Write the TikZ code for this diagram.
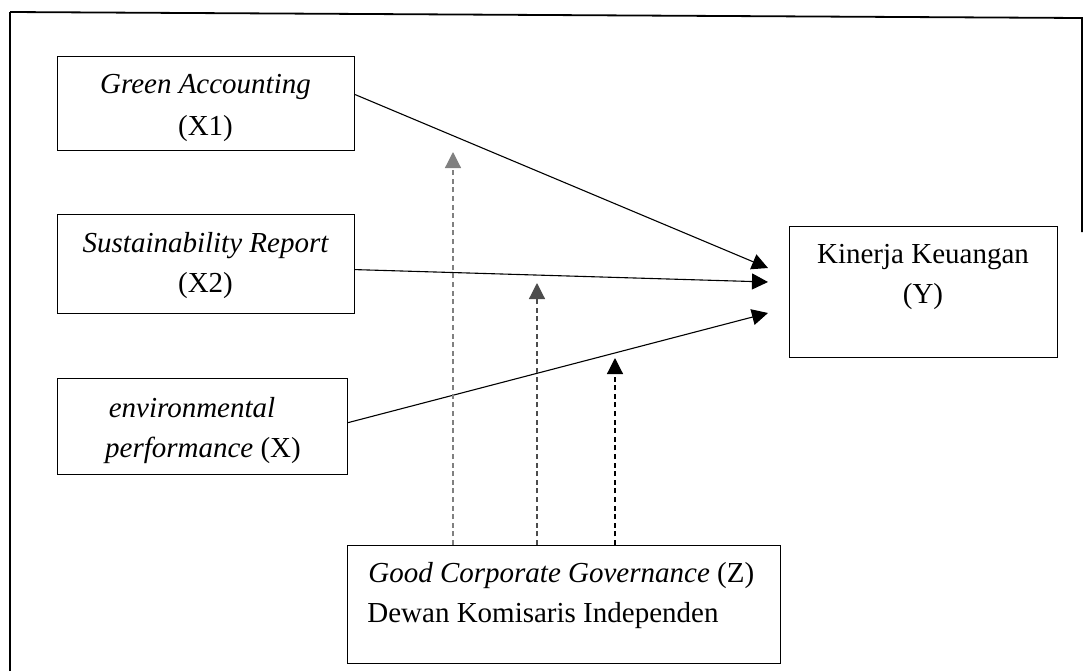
\documentclass[tikz,border=0pt]{standalone}
\usepackage{fontspec}
\setmainfont{Liberation Serif}
\usetikzlibrary{arrows.meta}
\begin{document}
\begin{tikzpicture}[x=0.5pt,y=-0.5pt,
  box/.style={draw, line width=0.6pt, inner sep=0pt, anchor=north west},
  lbl/.style={anchor=base, inner sep=0pt, font=\fontsize{14.5}{17}\selectfont},
  lblw/.style={lbl, anchor=base west},
  effect/.style={line width=0.55pt, -{Triangle[length=8pt,width=8pt]}},
  moder/.style={line width=0.6pt, dash pattern=on 2.5pt off 1.8pt, -{Triangle[length=8pt,width=8pt]}},
  frame/.style={line width=0.9pt}]
\useasboundingbox (0,0) rectangle (1084,671);
% outer frame
\draw[frame, line width=1.2pt] (10,671) -- (10,12);
\draw[frame] (10,12) -- (1082,18) -- (1082,232);
% boxes
\node[box, minimum width=148.5pt, minimum height=47pt] (x1) at (57,56) {};
\node[box, minimum width=148.5pt, minimum height=49.5pt] (x2) at (57,214) {};
\node[box, minimum width=145pt, minimum height=48pt] (x3) at (57,378) {};
\node[box, minimum width=134pt, minimum height=65.5pt] (y) at (789,226) {};
\node[box, minimum width=216.5pt, minimum height=59pt] (z) at (347,545) {};
% texts
\node[lbl] (t1a) at (205.5,93) {\itshape Green Accounting};
\node[lbl] (t1b) at (205.5,135) {(X1)};
\node[lbl] (t2a) at (205.5,252) {\itshape Sustainability Report};
\node[lbl] (t2b) at (205.5,292) {(X2)};
\node[lbl] (t3a) at (192,417) {\itshape environmental};
\node[lbl] (t3b) at (203,457) {\itshape performance\upshape\ (X)};
\node[lbl] (tya) at (923,263) {Kinerja Keuangan};
\node[lbl] (tyb) at (923,303) {(Y)};
\node[lblw] (tza) at (368,582) {\itshape Good Corporate Governance\upshape\ (Z)};
\node[lblw] (tzb) at (367,622) {Dewan Komisaris Independen};
% arrow end points
\coordinate (e1) at (768,268);
\coordinate (e2) at (768,282);
\coordinate (e3) at (768,313);
\coordinate (m1) at (453,152);
\coordinate (m2) at (537,283);
\coordinate (m3) at (615,358);
% direct effects
\draw[effect] ([yshift=4.5pt]x1.east) -- (e1);
\draw[effect] ([yshift=-2.75pt]x2.east) -- (e2);
\draw[effect] ([yshift=2pt]x3.east) -- (e3);
% moderation
\draw[moder, black!50] ([xshift=53pt]z.north west) -- (m1);
\draw[moder, black!70] ([xshift=95pt]z.north west) -- (m2);
\draw[moder, black] ([xshift=134pt]z.north west) -- (m3);
\end{tikzpicture}
\end{document}
